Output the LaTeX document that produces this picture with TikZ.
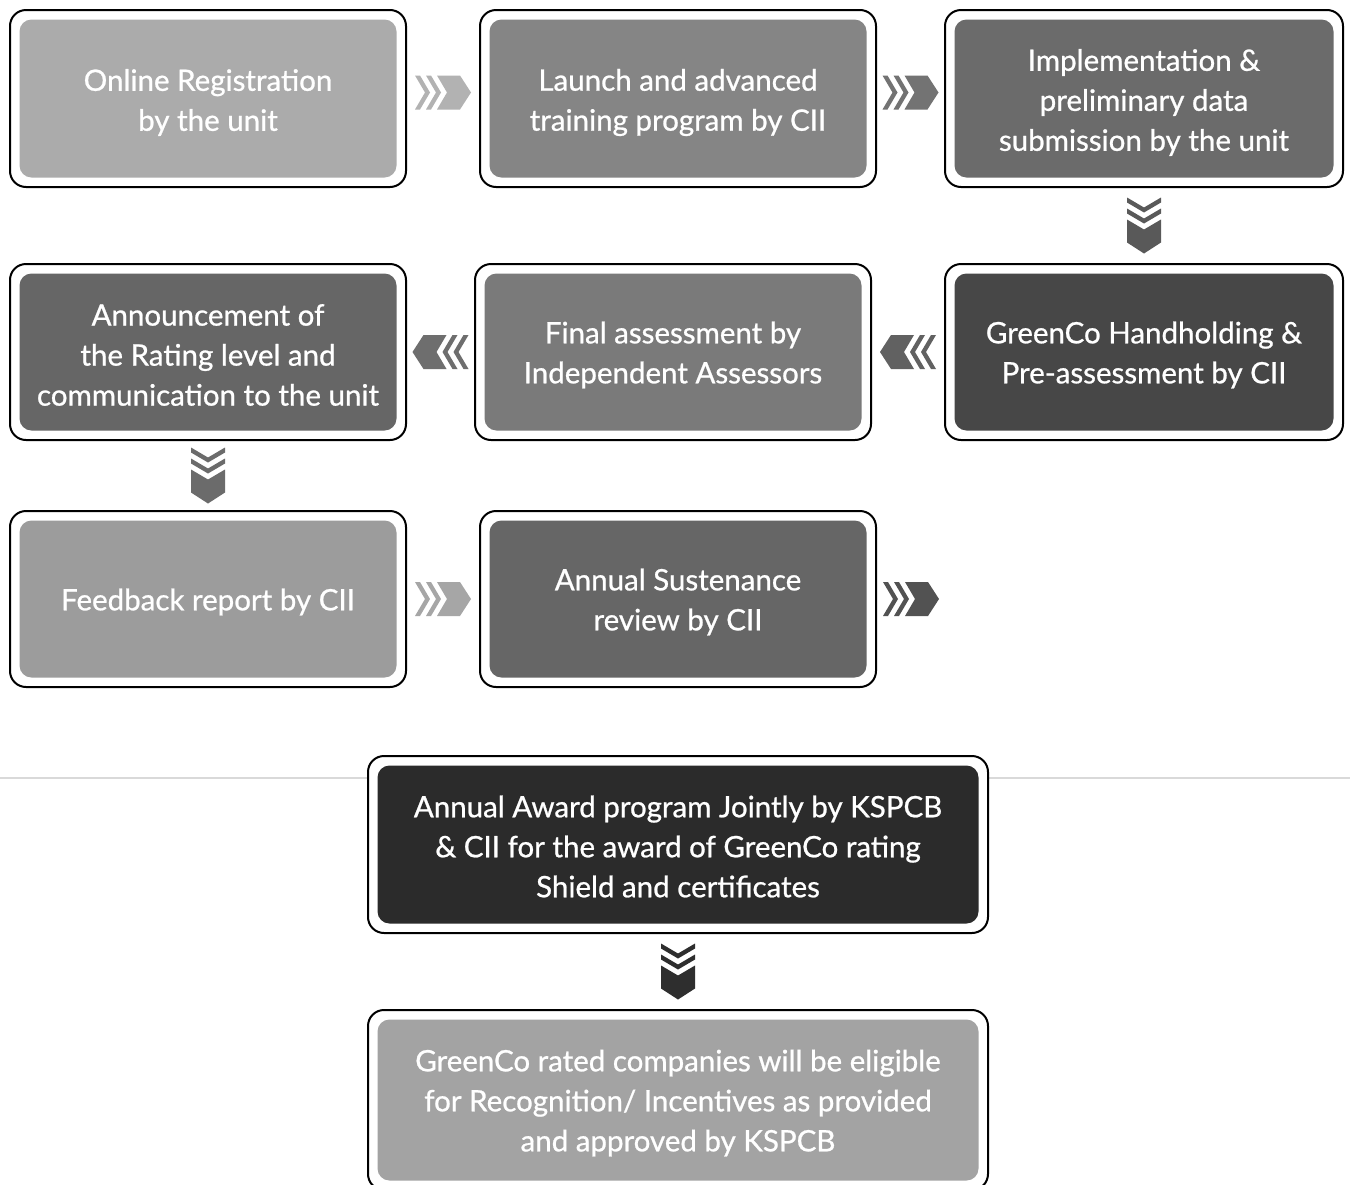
\documentclass[tikz,border=0pt]{standalone}
\usepackage{fontspec}
\setmainfont{Lato}
\newfontfamily\boxfont{Lato}[FakeBold=0.8]
\usetikzlibrary{calc}
\tikzset{
  frame/.style={draw=black, line width=2pt, rounded corners=16pt, fill=white, inner sep=0pt},
  inbox/.style={rounded corners=12pt, inner sep=0pt},
  boxtext/.style={inner sep=0pt, text=white, align=center,
    font=\boxfont\fontsize{29.5}{40}\selectfont},
  chev/.pic={
    \fill (-28,-17) -- (-23,-17) -- (-13,0) -- (-23,17) -- (-28,17) -- (-18,0) -- cycle;
    \fill (-17,-17) -- (-12,-17) -- (-2,0) -- (-12,17) -- (-17,17) -- (-7,0) -- cycle;
    \fill (-6,-17) -- (17,-17) -- (28,0) -- (17,17) -- (-6,17) -- (4,0) -- cycle;
  }
}
\begin{document}
\begin{tikzpicture}[x=1pt,y=-1pt]
\useasboundingbox (0,0) rectangle (1350,1184);
\clip (0,0) rectangle (1350,1184);
\fill[white] (0,0) rectangle (1350,1184);
\coordinate (ll) at (0,778);
\coordinate (lr) at (1350,778);
\draw[line width=1.2pt, color=black!15] (ll) -- (lr);

% frames
\node[frame, minimum width=396, minimum height=177] (f1) at (208,98.5) {};
\node[frame, minimum width=396, minimum height=177] (f2) at (678,98.5) {};
\node[frame, minimum width=398, minimum height=177] (f3) at (1144,98.5) {};
\node[frame, minimum width=396, minimum height=176] (f4) at (208,352) {};
\node[frame, minimum width=396, minimum height=176] (f5) at (673,352) {};
\node[frame, minimum width=398, minimum height=176] (f6) at (1144,352) {};
\node[frame, minimum width=396, minimum height=176] (f7) at (208,599) {};
\node[frame, minimum width=396, minimum height=176] (f8) at (678,599) {};
\node[frame, minimum width=620, minimum height=177] (f9) at (678,844.5) {};
\node[frame, minimum width=620, minimum height=180] (f10) at (678,1100) {};

% filled panels
\node[inbox, fill=black!33, minimum width=377, minimum height=158] (p1) at (f1) {};
\node[inbox, fill=black!48, minimum width=377, minimum height=158] (p2) at (f2) {};
\node[inbox, fill=black!58, minimum width=379, minimum height=158] (p3) at (f3) {};
\node[inbox, fill=black!60, minimum width=377, minimum height=157] (p4) at (f4) {};
\node[inbox, fill=black!52, minimum width=377, minimum height=157] (p5) at (f5) {};
\node[inbox, fill=black!72, minimum width=379, minimum height=157] (p6) at (f6) {};
\node[inbox, fill=black!39, minimum width=377, minimum height=157] (p7) at (f7) {};
\node[inbox, fill=black!60, minimum width=377, minimum height=157] (p8) at (f8) {};
\node[inbox, fill=black!83, minimum width=601, minimum height=158] (p9) at (f9) {};
\node[inbox, fill=black!36, minimum width=601, minimum height=161] (p10) at (f10) {};

% texts
\node[boxtext] (b1) at ($(p1)+(0,4)$) {Online Registration\\by the unit};
\node[boxtext] (b2) at ($(p2)+(0,4)$) {Launch and advanced\\training program by CII};
\node[boxtext] (b3) at ($(p3)+(0,4)$) {Implementation \&\\preliminary data\\submission by the unit};
\node[boxtext] (b4) at ($(p4)+(0,3)$) {Announcement of\\the Rating level and\\communication to the unit};
\node[boxtext] (b5) at ($(p5)+(0,3)$) {Final assessment by\\Independent Assessors};
\node[boxtext] (b6) at ($(p6)+(0,3)$) {GreenCo Handholding \&\\Pre-assessment by CII};
\node[boxtext] (b7) at ($(p7)+(0,3)$) {Feedback report by CII};
\node[boxtext] (b8) at ($(p8)+(0,3)$) {Annual Sustenance\\review by CII};
\node[boxtext] (b9) at ($(p9)+(0,2)$) {Annual Award program Jointly by KSPCB\\\& CII for the award of GreenCo rating\\Shield and certificates};
\node[boxtext] (b10) at ($(p10)+(0,3)$) {GreenCo rated companies will be eligible\\for Recognition/ Incentives as provided\\and approved by KSPCB};

% chevron connectors
\coordinate (endA) at ($(f8.east)+(68,0)$);
\pic[black!30] at ($(f1.east)!0.5!(f2.west)+(0,-6)$) {chev};
\pic[black!55] at ($(f2.east)!0.5!(f3.west)+(0,-6)$) {chev};
\pic[black!65, rotate=-90] at ($(f3.south)!0.5!(f6.north)$) {chev};
\pic[black!62, xscale=-1] at ($(f6.west)!0.5!(f5.east)$) {chev};
\pic[black!57, xscale=-1] at ($(f5.west)!0.5!(f4.east)$) {chev};
\pic[black!58, rotate=-90] at ($(f4.south)!0.5!(f7.north)$) {chev};
\pic[black!35] at ($(f7.east)!0.5!(f8.west)$) {chev};
\pic[black!68] at ($(f8.east)!0.5!(endA)$) {chev};
\pic[black!82, rotate=-90] at ($(f9.south)!0.5!(f10.north)$) {chev};
\end{tikzpicture}
\end{document}
